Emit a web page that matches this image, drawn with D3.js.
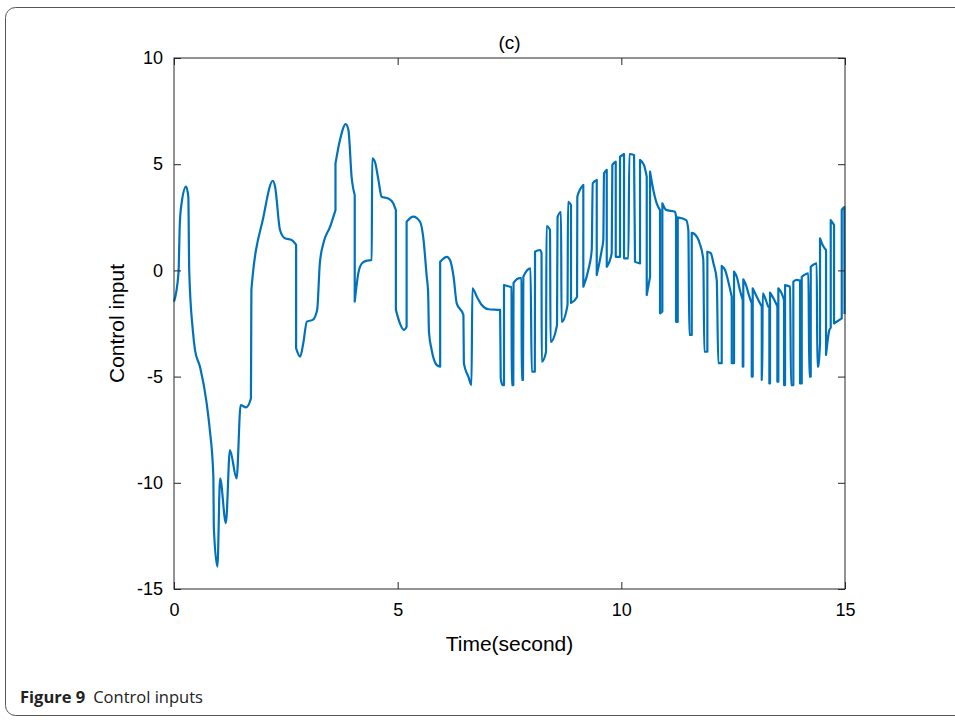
<!DOCTYPE html>
<html>
<head>
<meta charset="utf-8">
<script src="https://cdn.jsdelivr.net/npm/d3@7"></script>
<style>
  body { margin: 0; background: #fff; }
  svg text { font-family: "Liberation Sans", Arial, sans-serif; fill: #000; }
</style>
</head>
<body>
<div id="chart"></div>
<script>
// time (s) and control input
var timeA = [0, 0.10, 0.13, 0.17, 0.27, 0.32, 0.34, 0.42, 0.47, 0.58, 0.73, 0.80, 0.88, 0.89, 0.97,
  1.03, 1.16, 1.25, 1.40, 1.49, 1.61, 1.72, 1.73, 2.00, 2.21, 2.26, 2.37, 2.48, 2.63, 2.73, 2.73,
  2.82, 2.89, 2.97, 3.10, 3.20, 3.26, 3.34, 3.49, 3.61, 3.61, 3.71, 3.84, 3.90, 3.97, 4.04, 4.04,
  4.12, 4.20, 4.31, 4.42, 4.43, 4.49, 4.57, 4.64, 4.79, 4.90, 4.96, 4.96, 5.05, 5.14, 5.20, 5.20,
  5.35, 5.50, 5.57, 5.65, 5.68, 5.70, 5.76, 5.87, 5.95, 5.95, 6.10, 6.17, 6.25, 6.32, 6.47, 6.48,
  6.58, 6.65, 6.67, 6.77, 6.88, 7.03, 7.29];
var inputA = [-1.47, -0.14, 2.2, 3.16, 3.94, 3.47, 0, -2.8, -3.75, -4.53, -6.25, -7.5, -9.7, -12.07, -13.95,
  -9.79, -11.9, -8.46, -9.79, -6.34, -6.45, -6.02, -0.92, 2.53, 4.22, 3.94, 1.9, 1.51, 1.43, 1.2, -3.67,
  -4.06, -3.43, -2.41, -2.33, -1.86, 0.33, 1.28, 2.06, 2.84, 5.04, 6.14, 6.89, 6.6, 4.41, 3.55, -1.47,
  -0.14, 0.33, 0.46, 0.49, 5.28, 5.12, 4.26, 3.47, 3.39, 3.16, 2.84, -1.86, -2.49, -2.8, -2.65, 2.29,
  2.53, 2.29, 1.59, -0.3, -1.0, -2.9, -3.75, -4.45, -4.53, 0.41, 0.64, 0.49, -0.3, -1.55, -2.1, -4.38,
  -5.0, -5.4, -0.84, -1.24, -1.63, -1.83, -1.86];

// switching phase
var timeB = [7.304, 7.344, 7.377, 7.377, 7.512, 7.545, 7.550, 7.585, 7.590, 7.735, 7.769, 7.773, 7.802,
  7.809, 7.970, 7.997, 8.066, 8.071, 8.182, 8.216, 8.220, 8.316, 8.328, 8.406, 8.417, 8.562, 8.574,
  8.652, 8.663, 8.797, 8.808, 8.875, 8.875, 9.010, 9.016, 9.150, 9.150, 9.262, 9.338, 9.361, 9.450,
  9.450, 9.562, 9.597, 9.613, 9.674, 9.674, 9.785, 9.799, 9.875, 9.875, 9.971, 9.971, 10.060, 10.060,
  10.157, 10.179, 10.284, 10.306, 10.418, 10.418, 10.507, 10.568, 10.568, 10.642, 10.642, 10.715,
  10.791, 10.865, 10.865, 10.917, 10.917, 11.00, 11.20, 11.223, 11.223, 11.261, 11.261, 11.45, 11.498,
  11.520, 11.574, 11.574, 11.64, 11.75, 11.833, 11.855, 11.923, 11.923, 12.00, 12.06, 12.133, 12.168,
  12.244, 12.244, 12.32, 12.40, 12.468, 12.468, 12.519, 12.519, 12.58, 12.65, 12.714, 12.714, 12.727,
  12.727, 12.80, 12.84, 12.915, 12.915, 12.937, 12.937, 12.99, 13.10, 13.139, 13.139, 13.15, 13.16,
  13.23, 13.286, 13.309, 13.309, 13.324, 13.324, 13.40, 13.474, 13.488, 13.488, 13.510, 13.510, 13.585,
  13.637, 13.637, 13.660, 13.660, 13.772, 13.794, 13.845, 13.845, 13.92, 13.995, 13.995, 14.033, 14.033,
  14.181, 14.203, 14.234, 14.234, 14.368, 14.382, 14.40, 14.442, 14.442, 14.50, 14.576, 14.576, 14.65,
  14.681, 14.681, 14.755, 14.755, 14.927, 14.927, 14.985, 14.99];
var inputB = [-5.07, -5.40, -5.40, -0.69, -0.77, -0.78, -5.40, -5.40, -0.59, -0.36, -0.36, -5.16, -5.16,
  -0.30, 0.10, -4.77, -4.77, 0.88, 0.96, 0.82, -4.30, -3.84, 2.09, 1.90, -3.37, -2.57, 2.51,
  2.75, -2.43, -1.63, 3.23, 3.08, -1.53, -1.25, 3.47, 4.02, -0.77, 0.02, 0.96, 4.10, 4.26,
  -0.22, 0.96, 1.43, 4.57, 4.73, 0.17, 0.81, 4.96, 5.12, 0.64, 0.64, 5.35, 5.48, 0.57,
  0.57, 5.48, 5.43, 0.41, 0.33, 5.20, 4.96, 4.41, -1.16, -0.30, 4.65, 3.79,
  3.16, 2.84, -2.02, -1.94, 3.16, 2.85, 2.76, 2.53, -2.42, -2.42, 2.50, 2.37, 1.90,
  -3.04, -3.04, 1.77, 1.71, 1.28, 0.49, -3.83, -3.83, 0.88, 0.81, 0.33, -0.45, -4.37,
  -4.37, 0.21, 0.02, -0.61, -1.24, -4.37, -4.37, -0.06, -0.30, -0.92, -1.39, -4.53, -4.53,
  -0.42, -0.77, -1.08, -1.55, -5.00, -5.00, -0.84, -1.08, -1.55, -1.70, -5.16, -5.16, -1.08,
  -1.39, -1.71, -1.75, -5.32, -5.32, -1.05, -1.31, -1.63, -1.70, -5.24, -5.24, -0.84, -1.08,
  -1.39, -5.40, -5.40, -0.69, -0.77, -5.40, -5.40, -0.53, -0.45, -0.48, -5.32, -5.32, -0.30,
  -0.14, -5.00, -5.00, 0.17, 0.33, -4.53, -4.53, -3.43, 1.51, 1.20, 0.96, -3.98, -2.81,
  -2.70, 2.37, 2.14, -2.50, -2.26, 2.84, 2.98, -2.05];

var xTicks = [0, 5, 10, 15];
var yTicks = [-15, -10, -5, 0, 5, 10];

var W = 955, H = 720;
var margin = { top: 58, right: 110, bottom: 131, left: 174 },
    width = W - margin.left - margin.right,
    height = H - margin.top - margin.bottom;

var svg = d3.select("#chart").append("svg")
    .attr("width", W)
    .attr("height", H);

// figure frame
svg.append("rect")
    .attr("x", 5.5).attr("y", 7.5)
    .attr("width", 1000).attr("height", 708)
    .attr("rx", 10)
    .style("fill", "none")
    .style("stroke", "#555")
    .style("stroke-width", 1);

var g = svg.append("g")
    .attr("transform", "translate(" + margin.left + "," + margin.top + ")");

var x = d3.scaleLinear().domain([0, 15]).range([0, width]);
var y = d3.scaleLinear().domain([-15, 10]).range([height, 0]);

var pts = timeA.map(function (t, i) { return [t, inputA[i]]; })
    .concat(timeB.map(function (t, i) { return [t, inputB[i]]; }));

// split at the vertical jumps (same time twice), smooth each run, join with straight drops
var runs = [[pts[0]]];
for (var i = 1; i < pts.length; i++) {
    if (pts[i][0] === pts[i - 1][0]) runs.push([pts[i]]);
    else runs[runs.length - 1].push(pts[i]);
}

var line = d3.line()
    .curve(d3.curveMonotoneX)
    .x(function (d) { return x(d[0]); })
    .y(function (d) { return y(d[1]); });

var d = runs.map(function (r, k) {
    var s = r.length > 1 ? line(r) : "M" + x(r[0][0]) + "," + y(r[0][1]);
    return k === 0 ? s : s.replace(/^M/, "L");
}).join("");

g.append("path")
    .attr("d", d)
    .style("fill", "none")
    .style("stroke", "#0072BD")
    .style("stroke-width", 2.2)
    .style("stroke-linejoin", "round");

// matlab style box, ticks inside on all sides
var tk = 7;
var plain = function (v) { return String(v); };
function styleAxis(sel) {
    sel.select(".domain").remove();
    sel.selectAll(".tick line").style("stroke", "#262626");
    sel.selectAll(".tick text")
        .style("font-family", "'Liberation Sans', Arial, sans-serif")
        .style("font-size", "18px")
        .style("fill", "#000");
}

g.append("g")
    .attr("transform", "translate(0," + height + ")")
    .call(d3.axisBottom(x).tickValues(xTicks).tickFormat(plain).tickSizeInner(-tk).tickSizeOuter(0).tickPadding(14))
    .call(styleAxis);

g.append("g")
    .call(d3.axisTop(x).tickValues(xTicks).tickSizeInner(-tk).tickSizeOuter(0).tickFormat(""))
    .call(styleAxis);

g.append("g")
    .call(d3.axisLeft(y).tickValues(yTicks).tickFormat(plain).tickSizeInner(-tk).tickSizeOuter(0).tickPadding(11))
    .call(styleAxis);

g.append("g")
    .attr("transform", "translate(" + width + ",0)")
    .call(d3.axisRight(y).tickValues(yTicks).tickSizeInner(-tk).tickSizeOuter(0).tickFormat(""))
    .call(styleAxis);

g.append("rect")
    .attr("width", width).attr("height", height)
    .style("fill", "none")
    .style("stroke", "#262626")
    .style("stroke-width", 1);

g.append("text")
    .attr("x", width / 2).attr("y", -9)
    .attr("text-anchor", "middle")
    .style("font-size", "19px")
    .text("(c)");

g.append("text")
    .attr("x", width / 2).attr("y", height + 62)
    .attr("text-anchor", "middle")
    .style("font-size", "21px")
    .text("Time(second)");

g.append("text")
    .attr("transform", "translate(-50," + (height / 2) + ") rotate(-90)")
    .attr("text-anchor", "middle")
    .style("font-size", "21px")
    .text("Control input");

var cap = svg.append("text")
    .attr("x", 20).attr("y", 703)
    .style("font-family", "'Open Sans', 'Noto Sans', sans-serif")
    .style("font-size", "16.5px")
    .style("fill", "#222");
cap.append("tspan").style("font-weight", "bold").text("Figure 9");
cap.append("tspan").attr("dx", 8).text("Control inputs");
</script>
</body>
</html>
